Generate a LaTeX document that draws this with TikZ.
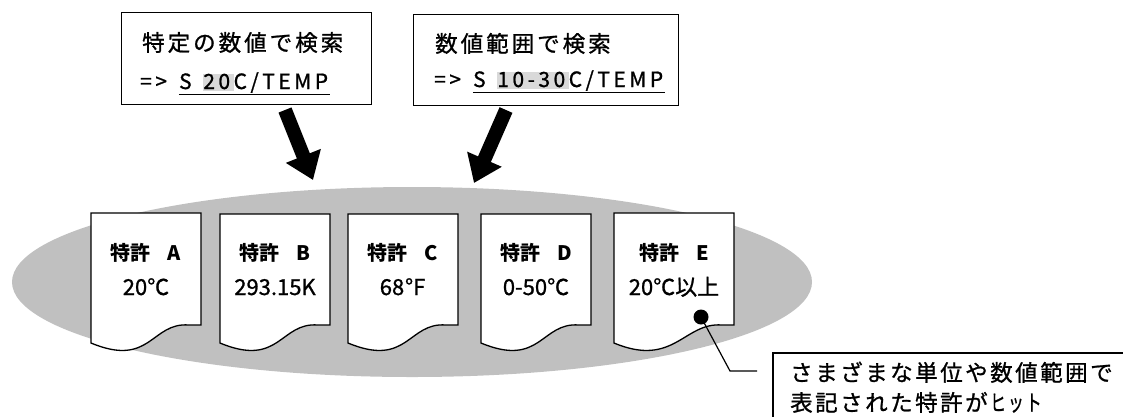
\documentclass[tikz,border=0pt]{standalone}
\usepackage{fontspec}
\setmainfont{Noto Sans CJK JP}
\newfontfamily\jr{Noto Sans CJK JP}[FakeBold=1.0]
\usetikzlibrary{arrows.meta}
\definecolor{ellgray}{HTML}{C0C0C0}
\definecolor{hlgray}{HTML}{D9D9D9}
\makeatletter
\newcommand\LS[2]{\begingroup\def\ls@g{#1}\@tfor\ls@c:=#2\do{\expandafter\ls@put\ls@c\ls@end}\endgroup}
\def\ls@put#1\ls@end{#1\kern\ls@g\relax}
\makeatother
\newcommand\hlbox[1]{{\setlength\fboxsep{0pt}\colorbox{hlgray}{\rule[-2pt]{0pt}{17.5pt}#1}}}
\tikzset{
  qbox/.style={draw, line width=1.2pt, anchor=north west, inner sep=0pt},
  txt/.style={inner sep=0pt, anchor=base west},
  qfont/.style={font=\jr\fontsize{22.5}{26}\selectfont},
  cfont/.style={font=\jr\fontsize{21}{24}\selectfont},
  doctxt/.style={inner sep=0pt, anchor=base},
  dfontb/.style={font=\fontsize{20}{24}\selectfont\bfseries},
  dfont/.style={font=\jr\fontsize{22}{26}\selectfont},
  bigarrow/.style={line width=14pt, -{Triangle[length=26pt,width=36pt]}},
}
\newcommand\docshape[3]{% left x, width, top y
  \filldraw[fill=white, draw=black, line width=1.3pt]
    (#1,#3) -- ({#1+#2},#3) -- ({#1+#2},325) -- ({#1+#2-12},325)
    .. controls ({#1+#2-50},322) and ({#1+60},368) .. (#1,343) -- cycle;}
\begin{document}
\begin{tikzpicture}[x=1pt,y=-1pt]
\useasboundingbox (0,0) rectangle (1123,416);
% ellipse
\fill[ellgray] (412,282) ellipse [x radius=400, y radius=95];
% query boxes
\node[qbox, minimum width=250pt, minimum height=92pt] (q1) at (121,12) {};
\node[qbox, minimum width=265pt, minimum height=91pt] (q2) at (413,14) {};
\node[txt, qfont] (q1a) at (142,51) {\LS{3pt}{特定の数値で検索}};
\node[txt, cfont] (q1b) at (140,89) {\LS{3.5pt}{=>\ }};
\node[txt, cfont] (q1c) at (q1b.base east) {\LS{3.5pt}{S\ }\hlbox{\LS{3.5pt}{20}}\LS{3.5pt}{C/TEMP}};
\draw[line width=1.8pt] ([yshift=-5.5pt]q1c.base west) -- ([yshift=-5.5pt,xshift=-2pt]q1c.base east);
\node[txt, qfont] (q2a) at (435,52) {\LS{3pt}{数値範囲で検索}};
\node[txt, cfont] (q2b) at (434,87) {\LS{3.5pt}{=>\ }};
\node[txt, cfont] (q2c) at (q2b.base east) {\LS{3.5pt}{S\ }\hlbox{\LS{3.5pt}{10-30}}\LS{3.5pt}{C/TEMP}};
\draw[line width=1.8pt] ([yshift=-5.5pt]q2c.base west) -- ([yshift=-5.5pt,xshift=-2pt]q2c.base east);
% arrows
\coordinate (a1s) at (285,110);
\coordinate (a1e) at (313,180);
\coordinate (a2s) at (506,110);
\coordinate (a2e) at (474,183);
\draw[bigarrow] (a1s) -- (a1e);
\draw[bigarrow] (a2s) -- (a2e);
% documents
\docshape{91}{110}{213}
\docshape{220}{110}{214}
\docshape{348}{110}{214}
\docshape{481}{110}{214}
\docshape{614}{120}{213}
\node[doctxt, dfontb] (dA1) at (146,260) {特許\kern17pt A};
\node[doctxt, dfont] (dA2) at (146,295) {20℃};
\node[doctxt, dfontb] (dB1) at (275,260) {特許\kern17pt B};
\node[doctxt, dfont] (dB2) at (275,295) {293.15K};
\node[doctxt, dfontb] (dC1) at (403,260) {特許\kern17pt C};
\node[doctxt, dfont] (dC2) at (403,295) {68℉};
\node[doctxt, dfontb] (dD1) at (536,260) {特許\kern17pt D};
\node[doctxt, dfont] (dD2) at (536,295) {0-50℃};
\node[doctxt, dfontb] (dE1) at (674,260) {特許\kern17pt E};
\node[doctxt, dfont] (dE2) at (674,295) {20℃以上};
% callout
\node[circle, fill=black, inner sep=0pt, minimum size=15pt] (dot) at (701,317) {};
\coordinate (bend) at (730,371);
\coordinate (lend) at (757,371);
\draw[line width=1.2pt] (dot.center) -- (bend) -- (lend);
\begin{scope}
\clip (0,0) rectangle (1123,416);
\draw[line width=1.2pt] (773,353) rectangle (1140,440);
\end{scope}
\node[txt, qfont] (c1) at (790,381) {\LS{2.5pt}{さまざまな単位や数値範囲で}};
\node[txt, qfont] (c2) at (790,411) {\LS{2.5pt}{表記された特許が}\scalebox{0.7}[1]{\LS{3pt}{ヒット}}};
\end{tikzpicture}
\end{document}
